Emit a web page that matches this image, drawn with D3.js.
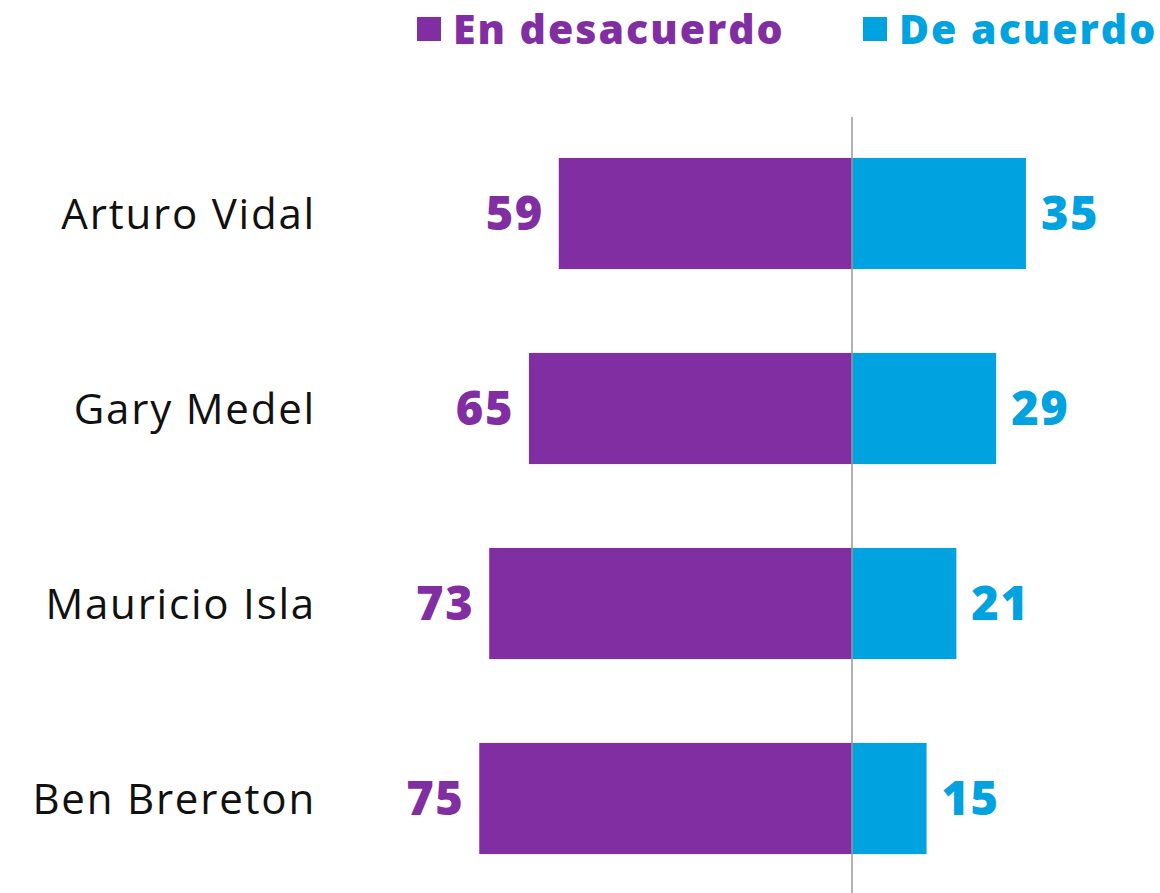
<!DOCTYPE html>
<html>
<head>
<meta charset="utf-8">
<script src="https://cdn.jsdelivr.net/npm/d3@7"></script>
<style>
  body { margin: 0; background: #fff; }
  svg text { font-family: "Open Sans", "Lato", sans-serif; }
</style>
</head>
<body>
<svg id="chart" width="1160" height="893"></svg>
<script>
var names = ["Arturo Vidal", "Gary Medel", "Mauricio Isla", "Ben Brereton"];
var disagree = [59, 65, 73, 75];
var agree = [35, 29, 21, 15];
var seriesNames = ["En desacuerdo", "De acuerdo"];
var colors = ["#812ea3", "#00a2e0"];

var svg = d3.select("#chart");

var x = d3.scaleLinear().domain([-100, 100]).range([355, 1349]);
var y = d3.scaleBand()
  .domain(names)
  .range([116, 896])
  .paddingInner(0.43)
  .paddingOuter(0.215);

var rows = names.map(function(n, i) {
  return { name: n, dis: disagree[i], agr: agree[i] };
});

// bars
svg.selectAll(".dis").data(rows).enter().append("rect")
  .attr("class", "dis")
  .attr("x", d => x(-d.dis))
  .attr("y", d => y(d.name))
  .attr("width", d => x(0) - x(-d.dis))
  .attr("height", y.bandwidth())
  .style("fill", colors[0]);

svg.selectAll(".agr").data(rows).enter().append("rect")
  .attr("class", "agr")
  .attr("x", x(0))
  .attr("y", d => y(d.name))
  .attr("width", d => x(d.agr) - x(0))
  .attr("height", y.bandwidth())
  .style("fill", colors[1]);

// center line
svg.append("line")
  .attr("x1", x(0)).attr("x2", x(0))
  .attr("y1", 117).attr("y2", 893)
  .style("stroke", "#999")
  .style("stroke-width", 1.5);

// value labels
svg.selectAll(".dlab").data(rows).enter().append("text")
  .attr("x", d => x(-d.dis) - 15)
  .attr("y", d => y(d.name) + y.bandwidth() / 2)
  .attr("dy", "0.36em")
  .attr("text-anchor", "end")
  .style("font-size", "47px")
  .style("font-weight", 800)
  .style("letter-spacing", "1.5px")
  .style("fill", colors[0])
  .text(d => d.dis);

svg.selectAll(".alab").data(rows).enter().append("text")
  .attr("x", d => x(d.agr) + 15)
  .attr("y", d => y(d.name) + y.bandwidth() / 2)
  .attr("dy", "0.36em")
  .style("font-size", "47px")
  .style("font-weight", 800)
  .style("letter-spacing", "1.5px")
  .style("fill", colors[1])
  .text(d => d.agr);

// category labels
svg.selectAll(".cat").data(rows).enter().append("text")
  .attr("x", 316)
  .attr("y", d => y(d.name) + y.bandwidth() / 2)
  .attr("dy", "0.36em")
  .attr("text-anchor", "end")
  .style("font-size", "42px")
  .style("font-weight", 400)
  .style("letter-spacing", "1.8px")
  .style("fill", "#111")
  .text(d => d.name);

// legend
var legendX = [417, 863];
var lg = svg.selectAll(".leg").data(seriesNames).enter().append("g")
  .attr("transform", (d, i) => "translate(" + legendX[i] + ",0)");
lg.append("rect")
  .attr("x", 0).attr("y", 17)
  .attr("width", 24).attr("height", 24)
  .style("fill", (d, i) => colors[i]);
lg.append("text")
  .attr("x", 36)
  .attr("y", 29)
  .attr("dy", "0.36em")
  .style("font-size", "41px")
  .style("font-weight", 800)
  .style("letter-spacing", "2px")
  .style("fill", (d, i) => colors[i])
  .text(d => d);
</script>
</body>
</html>
